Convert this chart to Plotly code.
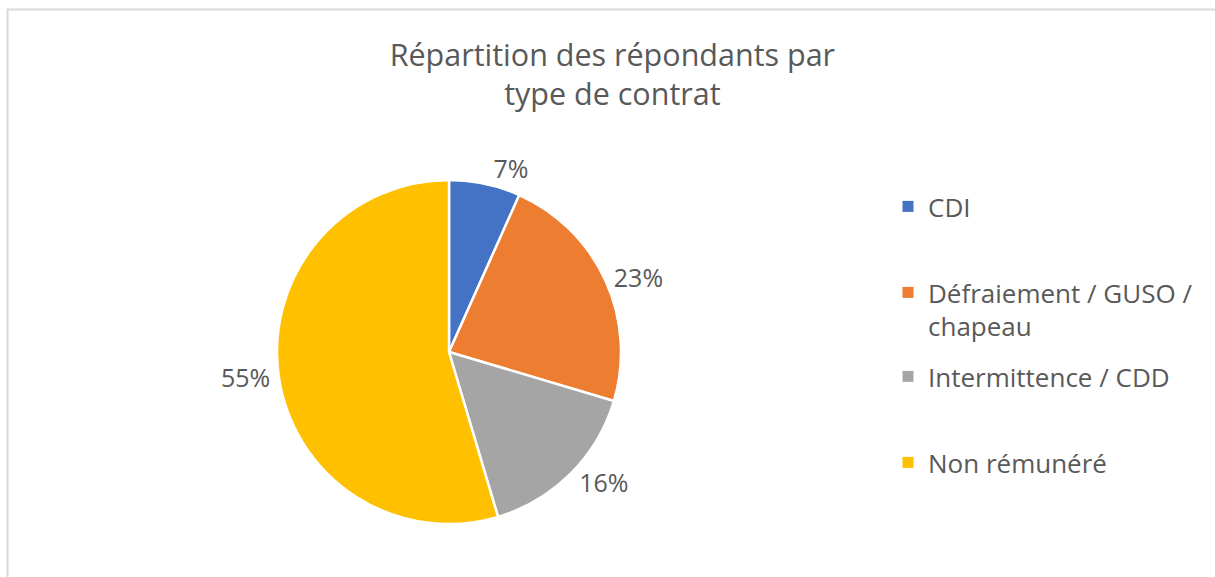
import plotly.graph_objects as go

categories = ["CDI", "Défraiement / GUSO /<br>chapeau", "Intermittence / CDD", "Non rémunéré"]
values = [6.7, 22.9, 15.8, 54.6]
colors = ["#4472C4", "#ED7D31", "#A5A5A5", "#FFC000"]
title_text = "Répartition des répondants par<br>type de contrat"

W, H = 1215, 577
FONT = "Open Sans"
TXT = "#595959"

# pie geometry in pixels (center x, center y from top, radius)
CX, CY, R = 449, 352, 172

fig = go.Figure()
fig.add_trace(go.Pie(
    labels=categories,
    values=values,
    sort=False,
    direction="clockwise",
    rotation=0,
    marker=dict(colors=colors, line=dict(color="white", width=2.5)),
    textposition="outside",
    texttemplate="%{percent:.0%}",
    textfont=dict(family=FONT, size=25, color=TXT),
    showlegend=False,
    hoverinfo="label+percent",
    domain=dict(x=[(CX - R) / W, (CX + R) / W],
                y=[(H - CY - R) / H, (H - CY + R) / H]),
))

# one legend per entry so each can be placed like the Excel legend
legend_names = ["legend", "legend2", "legend3", "legend4"]
entry_centers = [207, 293, 377, 463]  # first-line centres, px from top
LEGEND_X = 888  # px from left
legend_layout = {}
for i, (cat, col) in enumerate(zip(categories, colors)):
    fig.add_trace(go.Scatter(
        x=[None], y=[None], mode="markers", name=cat,
        marker=dict(symbol="square", size=11, color=col),
        legend=legend_names[i], showlegend=True, hoverinfo="skip",
    ))
    legend_layout[legend_names[i]] = dict(
        x=LEGEND_X / W, y=1 - (entry_centers[i] - 24) / H,
        xanchor="left", yanchor="top",
        font=dict(family=FONT, size=26, color=TXT),
        valign="top", itemwidth=30, bgcolor="rgba(0,0,0,0)",
    )

fig.update_layout(
    width=W, height=H,
    margin=dict(l=0, r=0, t=0, b=0),
    paper_bgcolor="white", plot_bgcolor="white",
    xaxis=dict(visible=False), yaxis=dict(visible=False),
    title=dict(text=title_text, x=0.504, xanchor="center", y=0.886, yanchor="top",
               font=dict(family=FONT, size=30.5, color=TXT)),
    shapes=[dict(type="rect", xref="paper", yref="paper",
                 x0=7.5 / W, x1=1.01, y0=-0.01, y1=1 - 9.5 / H,
                 line=dict(color="#D9D9D9", width=2), layer="below")],
    **legend_layout,
)

fig.write_html("out.html", config={"displayModeBar": False},
               post_script="document.body.style.margin='0';")
